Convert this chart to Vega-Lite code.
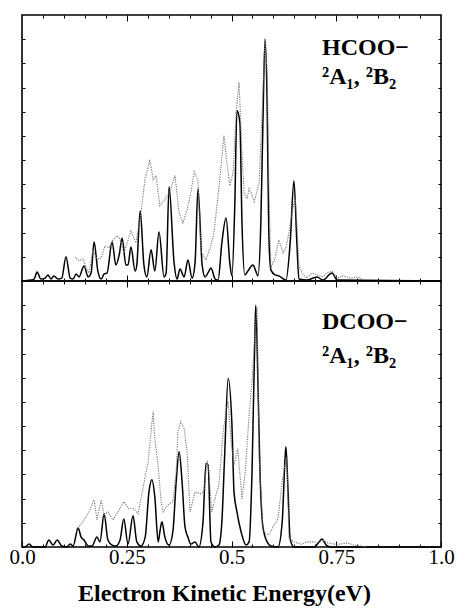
{
  "$schema": "https://vega.github.io/schema/vega-lite/v6.json",
  "background": "white",
  "padding": {"left": 8, "top": 13, "right": 5, "bottom": 2},
  "spacing": 0,
  "bounds": "flush",
  "config": {
    "view": {"stroke": "black", "strokeWidth": 1.6},
    "font": "Liberation Serif",
    "axis": {"domain": false, "grid": false, "tickColor": "black", "tickWidth": 1, "title": null, "labels": false, "labelFlush": false}
  },
  "datasets": {
    "hs": [
      {"e":0.000,"i":0},{"e":0.021,"i":0.004},{"e":0.029,"i":0.008},{"e":0.036,"i":0.037},{"e":0.045,"i":0.008},{"e":0.055,"i":0.012},{"e":0.062,"i":0.025},{"e":0.069,"i":0.008},{"e":0.076,"i":0.021},{"e":0.086,"i":0.008},{"e":0.095,"i":0.012},{"e":0.105,"i":0.100},{"e":0.115,"i":0.012},{"e":0.122,"i":0.008},{"e":0.129,"i":0.029},{"e":0.136,"i":0.017},{"e":0.148,"i":0.062},{"e":0.158,"i":0.017},{"e":0.165,"i":0.033},{"e":0.172,"i":0.162},{"e":0.181,"i":0.041},{"e":0.189,"i":0.008},{"e":0.196,"i":0.029},{"e":0.203,"i":0.033},{"e":0.215,"i":0.162},{"e":0.224,"i":0.066},{"e":0.232,"i":0.108},{"e":0.239,"i":0.178},{"e":0.248,"i":0.066},{"e":0.253,"i":0.066},{"e":0.260,"i":0.141},{"e":0.270,"i":0.041},{"e":0.274,"i":0.066},{"e":0.282,"i":0.290},{"e":0.291,"i":0.066},{"e":0.298,"i":0.017},{"e":0.308,"i":0.129},{"e":0.317,"i":0.041},{"e":0.327,"i":0.203},{"e":0.339,"i":0.017},{"e":0.344,"i":0.033},{"e":0.351,"i":0.390},{"e":0.363,"i":0.075},{"e":0.370,"i":0.008},{"e":0.377,"i":0.050},{"e":0.387,"i":0.017},{"e":0.396,"i":0.087},{"e":0.406,"i":0.012},{"e":0.413,"i":0.075},{"e":0.420,"i":0.382},{"e":0.430,"i":0.066},{"e":0.437,"i":0.017},{"e":0.446,"i":0.041},{"e":0.451,"i":0.054},{"e":0.461,"i":0.008},{"e":0.468,"i":0.004},{"e":0.477,"i":0.158},{"e":0.487,"i":0.261},{"e":0.496,"i":0.075},{"e":0.501,"i":0.021},{"e":0.508,"i":0.324},{"e":0.513,"i":0.705},{"e":0.520,"i":0.656},{"e":0.525,"i":0.241},{"e":0.532,"i":0.025},{"e":0.539,"i":0.041},{"e":0.551,"i":0.066},{"e":0.558,"i":0.041},{"e":0.563,"i":0.021},{"e":0.570,"i":0.241},{"e":0.575,"i":0.656},{"e":0.580,"i":1.0},{"e":0.585,"i":0.739},{"e":0.589,"i":0.199},{"e":0.594,"i":0.046},{"e":0.604,"i":0.025},{"e":0.613,"i":0.021},{"e":0.630,"i":0.004},{"e":0.640,"i":0.158},{"e":0.649,"i":0.415},{"e":0.656,"i":0.158},{"e":0.661,"i":0.008},{"e":0.680,"i":0.004},{"e":0.704,"i":0.017},{"e":0.718,"i":0.004},{"e":0.740,"i":0.033},{"e":0.752,"i":0.004},{"e":1.0,"i":0}
    ],
    "hd": [
      {"e":0.126,"i":0.100},{"e":0.136,"i":0.083},{"e":0.146,"i":0.091},{"e":0.153,"i":0.054},{"e":0.160,"i":0.033},{"e":0.169,"i":0.124},{"e":0.179,"i":0.091},{"e":0.189,"i":0.095},{"e":0.198,"i":0.145},{"e":0.208,"i":0.137},{"e":0.217,"i":0.170},{"e":0.227,"i":0.187},{"e":0.234,"i":0.174},{"e":0.243,"i":0.116},{"e":0.251,"i":0.158},{"e":0.260,"i":0.207},{"e":0.272,"i":0.158},{"e":0.284,"i":0.282},{"e":0.294,"i":0.427},{"e":0.301,"i":0.469},{"e":0.305,"i":0.502},{"e":0.313,"i":0.419},{"e":0.320,"i":0.436},{"e":0.329,"i":0.311},{"e":0.339,"i":0.332},{"e":0.351,"i":0.365},{"e":0.360,"i":0.407},{"e":0.365,"i":0.436},{"e":0.375,"i":0.282},{"e":0.384,"i":0.241},{"e":0.394,"i":0.295},{"e":0.403,"i":0.365},{"e":0.411,"i":0.452},{"e":0.420,"i":0.415},{"e":0.427,"i":0.124},{"e":0.439,"i":0.087},{"e":0.449,"i":0.137},{"e":0.458,"i":0.199},{"e":0.470,"i":0.386},{"e":0.482,"i":0.602},{"e":0.489,"i":0.490},{"e":0.496,"i":0.394},{"e":0.504,"i":0.448},{"e":0.511,"i":0.697},{"e":0.518,"i":0.822},{"e":0.525,"i":0.531},{"e":0.530,"i":0.365},{"e":0.537,"i":0.340},{"e":0.542,"i":0.382},{"e":0.547,"i":0.365},{"e":0.554,"i":0.328},{"e":0.561,"i":0.373},{"e":0.566,"i":0.407},{"e":0.573,"i":0.697},{"e":0.580,"i":1.0},{"e":0.585,"i":0.863},{"e":0.589,"i":0.407},{"e":0.594,"i":0.054},{"e":0.604,"i":0.095},{"e":0.613,"i":0.170},{"e":0.623,"i":0.116},{"e":0.630,"i":0.137},{"e":0.637,"i":0.199},{"e":0.644,"i":0.282},{"e":0.652,"i":0.344},{"e":0.656,"i":0.241},{"e":0.661,"i":0.062},{"e":0.671,"i":0.025},{"e":0.680,"i":0.012},{"e":0.692,"i":0.033},{"e":0.704,"i":0.025},{"e":0.718,"i":0.017},{"e":0.728,"i":0.033},{"e":0.740,"i":0.041},{"e":0.752,"i":0.012},{"e":0.766,"i":0.021},{"e":0.785,"i":0.012},{"e":0.800,"i":0.017},{"e":0.816,"i":0.004}
    ],
    "ds": [
      {"e":0,"i":0},{"e":0.007,"i":0},{"e":0.017,"i":0.012},{"e":0.026,"i":0},{"e":0.055,"i":0},{"e":0.064,"i":0.029},{"e":0.074,"i":0.008},{"e":0.084,"i":0.029},{"e":0.095,"i":0.004},{"e":0.107,"i":0},{"e":0.115,"i":0.012},{"e":0.122,"i":0.004},{"e":0.134,"i":0.079},{"e":0.141,"i":0.041},{"e":0.148,"i":0.029},{"e":0.158,"i":0.004},{"e":0.167,"i":0.004},{"e":0.179,"i":0.041},{"e":0.186,"i":0.021},{"e":0.196,"i":0.137},{"e":0.205,"i":0.029},{"e":0.215,"i":0.008},{"e":0.224,"i":0.004},{"e":0.234,"i":0.029},{"e":0.243,"i":0.116},{"e":0.253,"i":0.012},{"e":0.265,"i":0.129},{"e":0.274,"i":0.021},{"e":0.284,"i":0.004},{"e":0.294,"i":0.041},{"e":0.303,"i":0.228},{"e":0.310,"i":0.278},{"e":0.317,"i":0.207},{"e":0.325,"i":0.021},{"e":0.329,"i":0.062},{"e":0.334,"i":0.104},{"e":0.341,"i":0.041},{"e":0.351,"i":0.008},{"e":0.360,"i":0.062},{"e":0.368,"i":0.270},{"e":0.375,"i":0.394},{"e":0.382,"i":0.270},{"e":0.389,"i":0.083},{"e":0.396,"i":0.041},{"e":0.403,"i":0.012},{"e":0.413,"i":0.021},{"e":0.422,"i":0},{"e":0.432,"i":0.104},{"e":0.439,"i":0.344},{"e":0.444,"i":0.340},{"e":0.451,"i":0.021},{"e":0.461,"i":0},{"e":0.470,"i":0.008},{"e":0.477,"i":0.104},{"e":0.484,"i":0.394},{"e":0.492,"i":0.697},{"e":0.501,"i":0.506},{"e":0.506,"i":0.228},{"e":0.513,"i":0.145},{"e":0.523,"i":0.062},{"e":0.535,"i":0.008},{"e":0.542,"i":0.021},{"e":0.549,"i":0.311},{"e":0.556,"i":0.892},{"e":0.558,"i":1.0},{"e":0.563,"i":0.685},{"e":0.568,"i":0.311},{"e":0.575,"i":0.083},{"e":0.585,"i":0.021},{"e":0.594,"i":0.004},{"e":0.611,"i":0},{"e":0.621,"i":0.104},{"e":0.628,"i":0.373},{"e":0.630,"i":0.415},{"e":0.635,"i":0.228},{"e":0.640,"i":0.033},{"e":0.649,"i":0},{"e":0.697,"i":0},{"e":0.709,"i":0.021},{"e":0.716,"i":0.033},{"e":0.726,"i":0.008},{"e":0.737,"i":0},{"e":1.0,"i":0}
    ],
    "dd": [
      {"e":0.129,"i":0.071},{"e":0.136,"i":0.083},{"e":0.148,"i":0.112},{"e":0.160,"i":0.145},{"e":0.172,"i":0.195},{"e":0.179,"i":0.112},{"e":0.189,"i":0.195},{"e":0.196,"i":0.133},{"e":0.205,"i":0.145},{"e":0.217,"i":0.112},{"e":0.229,"i":0.145},{"e":0.243,"i":0.187},{"e":0.255,"i":0.158},{"e":0.267,"i":0.158},{"e":0.277,"i":0.137},{"e":0.284,"i":0.199},{"e":0.294,"i":0.290},{"e":0.301,"i":0.353},{"e":0.308,"i":0.477},{"e":0.313,"i":0.560},{"e":0.317,"i":0.448},{"e":0.325,"i":0.332},{"e":0.332,"i":0.187},{"e":0.337,"i":0.145},{"e":0.348,"i":0.174},{"e":0.360,"i":0.187},{"e":0.368,"i":0.311},{"e":0.372,"i":0.477},{"e":0.379,"i":0.519},{"e":0.387,"i":0.490},{"e":0.394,"i":0.394},{"e":0.401,"i":0.145},{"e":0.413,"i":0.228},{"e":0.425,"i":0.220},{"e":0.434,"i":0.228},{"e":0.442,"i":0.361},{"e":0.446,"i":0.311},{"e":0.453,"i":0.145},{"e":0.463,"i":0.216},{"e":0.470,"i":0.257},{"e":0.480,"i":0.477},{"e":0.487,"i":0.560},{"e":0.492,"i":0.602},{"e":0.499,"i":0.436},{"e":0.506,"i":0.340},{"e":0.515,"i":0.407},{"e":0.525,"i":0.199},{"e":0.533,"i":0.311},{"e":0.542,"i":0.548},{"e":0.549,"i":0.685},{"e":0.556,"i":0.892},{"e":0.561,"i":0.988},{"e":0.566,"i":0.365},{"e":0.575,"i":0.071},{"e":0.582,"i":0.054},{"e":0.589,"i":0.050},{"e":0.599,"i":0.083},{"e":0.611,"i":0.116},{"e":0.621,"i":0.270},{"e":0.628,"i":0.344},{"e":0.632,"i":0.373},{"e":0.637,"i":0.041},{"e":0.649,"i":0.021},{"e":0.666,"i":0.012},{"e":0.680,"i":0.021},{"e":0.697,"i":0.021},{"e":0.709,"i":0.017},{"e":0.716,"i":0.029},{"e":0.730,"i":0.017},{"e":0.745,"i":0.012},{"e":0.761,"i":0.012},{"e":0.776,"i":0.017},{"e":0.792,"i":0.008},{"e":0.809,"i":0.004},{"e":0.823,"i":0}
    ]
  },
  "vconcat": [
    {
      "width": 419,
      "height": 266,
      "layer": [
        {
          "data": {"name": "hs"},
          "mark": {"type": "line", "color": "black", "strokeWidth": 1.5, "interpolate": "monotone"},
          "encoding": {
            "x": {"field": "e", "type": "quantitative", "scale": {"domain": [0, 1]}, "axis": {"orient": "bottom", "values": [0.05,0.1,0.15,0.2,0.3,0.35,0.4,0.45,0.55,0.6,0.65,0.7,0.8,0.85,0.9,0.95], "tickSize": -3}},
            "y": {"field": "i", "type": "quantitative", "scale": {"domain": [0, 1.1]}, "axis": {"orient": "left", "values": [0.1,0.2,0.3,0.4,0.5,0.6,0.7,0.8,0.9,1.0], "tickSize": -3}}
          }
        },
        {
          "data": {"name": "hd"},
          "mark": {"type": "line", "color": "#777777", "strokeWidth": 1.1, "strokeDash": [1.2, 1.2]},
          "encoding": {
            "x": {"field": "e", "type": "quantitative", "scale": {"domain": [0, 1]}, "axis": {"orient": "top", "values": [0.05,0.1,0.15,0.2,0.3,0.35,0.4,0.45,0.55,0.6,0.65,0.7,0.8,0.85,0.9,0.95], "tickSize": -3}},
            "y": {"field": "i", "type": "quantitative", "scale": {"domain": [0, 1.1]}, "axis": {"orient": "right", "values": [0.1,0.2,0.3,0.4,0.5,0.6,0.7,0.8,0.9,1.0], "tickSize": -3}}
          }
        },
        {
          "data": {"values": [{"t": "HCOO−"}]},
          "mark": {"type": "text", "align": "left", "baseline": "alphabetic", "fontSize": 24, "fontWeight": "bold", "font": "Liberation Serif"},
          "encoding": {
            "x": {"datum": 0.716, "type": "quantitative", "axis": {"orient": "bottom", "values": [0.25, 0.5, 0.75], "tickSize": -6}},
            "y": {"datum": 0.934, "type": "quantitative", "axis": null},
            "text": {"field": "t"}
          }
        },
        {
          "data": {"values": [{"t": "²A₁, ²B₂"}]},
          "mark": {"type": "text", "align": "left", "baseline": "alphabetic", "fontSize": 24, "fontWeight": "bold", "font": "Liberation Serif"},
          "encoding": {
            "x": {"datum": 0.716, "type": "quantitative", "axis": {"orient": "top", "values": [0.25, 0.5, 0.75], "tickSize": -6}},
            "y": {"datum": 0.813, "type": "quantitative", "axis": null},
            "text": {"field": "t"}
          }
        }
      ],
      "resolve": {"axis": {"x": "independent", "y": "independent"}}
    },
    {
      "width": 419,
      "height": 266,
      "layer": [
        {
          "data": {"name": "ds"},
          "mark": {"type": "line", "color": "black", "strokeWidth": 1.5, "interpolate": "monotone"},
          "encoding": {
            "x": {"field": "e", "type": "quantitative", "scale": {"domain": [0, 1]}, "axis": {"orient": "bottom", "values": [0.05,0.1,0.15,0.2,0.3,0.35,0.4,0.45,0.55,0.6,0.65,0.7,0.8,0.85,0.9,0.95], "tickSize": -3}},
            "y": {"field": "i", "type": "quantitative", "scale": {"domain": [0, 1.1]}, "axis": {"orient": "left", "values": [0.1,0.2,0.3,0.4,0.5,0.6,0.7,0.8,0.9,1.0], "tickSize": -3}}
          }
        },
        {
          "data": {"name": "dd"},
          "mark": {"type": "line", "color": "#777777", "strokeWidth": 1.1, "strokeDash": [1.2, 1.2]},
          "encoding": {
            "x": {"field": "e", "type": "quantitative", "scale": {"domain": [0, 1]}, "axis": {"orient": "top", "values": [0.05,0.1,0.15,0.2,0.3,0.35,0.4,0.45,0.55,0.6,0.65,0.7,0.8,0.85,0.9,0.95], "tickSize": -3}},
            "y": {"field": "i", "type": "quantitative", "scale": {"domain": [0, 1.1]}, "axis": {"orient": "right", "values": [0.1,0.2,0.3,0.4,0.5,0.6,0.7,0.8,0.9,1.0], "tickSize": -3}}
          }
        },
        {
          "data": {"values": [{"t": "DCOO−"}]},
          "mark": {"type": "text", "align": "left", "baseline": "alphabetic", "fontSize": 24, "fontWeight": "bold", "font": "Liberation Serif"},
          "encoding": {
            "x": {"datum": 0.716, "type": "quantitative", "axis": {"orient": "bottom", "values": [0, 0.25, 0.5, 0.75, 1], "tickSize": -6, "labels": true, "labelFlush": false, "labelPadding": 5, "labelFont": "Liberation Serif", "labelFontSize": 21, "labelColor": "black", "labelExpr": "datum.value == 0 ? '0.0' : datum.value == 1 ? '1.0' : format(datum.value, '~g')", "title": "Electron Kinetic Energy(eV)", "titleFont": "Liberation Serif", "titleFontSize": 24, "titleFontWeight": "bold", "titleColor": "black", "titlePadding": 14, "titleX": 202}},
            "y": {"datum": 0.900, "type": "quantitative", "axis": null},
            "text": {"field": "t"}
          }
        },
        {
          "data": {"values": [{"t": "²A₁, ²B₂"}]},
          "mark": {"type": "text", "align": "left", "baseline": "alphabetic", "fontSize": 24, "fontWeight": "bold", "font": "Liberation Serif"},
          "encoding": {
            "x": {"datum": 0.716, "type": "quantitative", "axis": {"orient": "top", "values": [0.25, 0.5, 0.75], "tickSize": -6}},
            "y": {"datum": 0.759, "type": "quantitative", "axis": null},
            "text": {"field": "t"}
          }
        }
      ],
      "resolve": {"axis": {"x": "independent", "y": "independent"}}
    }
  ]
}
